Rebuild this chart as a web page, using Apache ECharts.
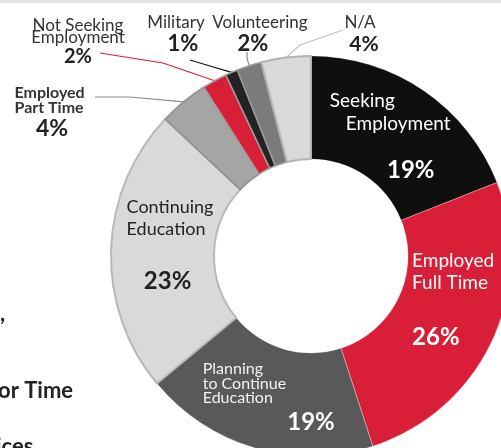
<!DOCTYPE html>
<html>
<head>
<meta charset="utf-8">
<script src="https://cdn.jsdelivr.net/npm/echarts@6/dist/echarts.min.js"></script>
<style>
  html, body { margin: 0; padding: 0; background: #fff; }
  #chart { width: 501px; height: 448px; }
</style>
</head>
<body>
<div id="chart"></div>
<script>
// slices, clockwise from 12 o'clock
const names = ['Seeking Employment', 'Employed Full Time', 'Planning to Continue Education',
  'Continuing Education', 'Employed Part Time', 'Not Seeking Employment', 'Military', 'Volunteering', 'N/A'];
const labelNames = ['Seeking\nEmployment', 'Employed\nFull Time', 'Planning\nto Continue\nEducation',
  'Continuing\nEducation', 'Employed\nPart Time', 'Not Seeking\nEmployment', 'Military', 'Volunteering', 'N/A'];
const values = [19, 26, 19, 23, 4, 2, 1, 2, 4];
const colors = ['#0f100e', '#d91e38', '#595959', '#d9d9d9', '#a5a5a5', '#d91e38', '#232323', '#7b7b7b', '#d9d9d9'];

const FONT = 'Lato';

// label styles per slice
const labelStyles = [
  { // seeking
    rich: {
      n0: { color: '#fff', fontSize: 19, lineHeight: 23, align: 'left' },
      n1: { color: '#fff', fontSize: 19, lineHeight: 23, align: 'right', padding: [0, 0, 0, 16] },
      p: { color: '#fff', fontSize: 24, fontWeight: 'bold', lineHeight: 71, align: 'right', padding: [0, 16, 0, 0] }
    }
  },
  { // full time
    rich: {
      n0: { color: '#fff', fontSize: 19, lineHeight: 22, align: 'left', width: 84 },
      n1: { color: '#fff', fontSize: 19, lineHeight: 22, align: 'left', width: 84 },
      p: { color: '#fff', fontSize: 24, fontWeight: 'bold', lineHeight: 88, align: 'left', width: 84 }
    }
  },
  { // planning
    rich: {
      n0: { color: '#f2f2f2', fontSize: 16, lineHeight: 14.5, align: 'left', width: 132 },
      n1: { color: '#f2f2f2', fontSize: 16, lineHeight: 14.5, align: 'left', width: 132 },
      n2: { color: '#f2f2f2', fontSize: 16, lineHeight: 14.5, align: 'left', width: 132 },
      p: { color: '#fff', fontSize: 24, fontWeight: 'bold', lineHeight: 33.5, align: 'right', width: 132 }
    }
  },
  { // continuing
    rich: {
      n0: { color: '#222', fontSize: 18, lineHeight: 22, align: 'left', width: 82 },
      n1: { color: '#222', fontSize: 18, lineHeight: 22, align: 'left', width: 82 },
      p: { color: '#222', fontSize: 24, fontWeight: 'bold', lineHeight: 83, align: 'center', width: 82 }
    }
  },
  { // part time
    rich: {
      n0: { color: '#333', fontSize: 16, fontWeight: 'bold', lineHeight: 15, align: 'left', width: 75 },
      n1: { color: '#333', fontSize: 16, fontWeight: 'bold', lineHeight: 15, align: 'left', width: 75 },
      p: { color: '#222', fontSize: 23, fontWeight: 'bold', lineHeight: 27, align: 'center', width: 75 }
    }
  },
  { // not seeking
    rich: {
      n0: { color: '#333', fontSize: 17, lineHeight: 12 },
      n1: { color: '#333', fontSize: 17, lineHeight: 12 },
      p: { color: '#222', fontSize: 20, fontWeight: 'bold', lineHeight: 26 }
    }
  },
  { // military
    rich: {
      n0: { color: '#333', fontSize: 17, lineHeight: 16 },
      p: { color: '#222', fontSize: 22, fontWeight: 'bold', lineHeight: 26, padding: [0, 0, 0, 14] }
    }
  },
  { // volunteering
    rich: {
      n0: { color: '#333', fontSize: 17, lineHeight: 16 },
      p: { color: '#222', fontSize: 22, fontWeight: 'bold', lineHeight: 26, padding: [0, 14, 0, 0] }
    }
  },
  { // n/a
    rich: {
      n0: { color: '#333', fontSize: 17, lineHeight: 16 },
      p: { color: '#222', fontSize: 21, fontWeight: 'bold', lineHeight: 26, padding: [0, 0, 0, 8] }
    }
  }
];

// shifts for the labels sitting inside the ring
const insideShift = { 0: [-6, 17], 1: [6, -5], 2: [0, -1], 3: [8, 8] };
// outside labels: block top-centre, leader bend and end
const outsideSpots = {
  4: { x: 52, y: 85, bend: [130, 97], end: [95, 97] },
  5: { x: 78, y: 20, bend: [163, 63], end: [100, 53] },
  6: { x: 176, y: 15, bend: [210, 66], end: [190, 60] },
  7: { x: 260, y: 15, bend: [247, 58], end: [247, 52] },
  8: { x: 360, y: 15, bend: [300, 45], end: [343, 30] }
};
const lineColors = { 4: '#8c8c8c', 5: '#d91e38', 6: '#111', 7: '#8c8c8c', 8: '#bdbdbd' };
const borders = [
  ['rgba(255,255,255,0.15)', 1], ['rgba(255,255,255,0.35)', 1], ['rgba(255,255,255,0.3)', 1],
  ['#b8b8b8', 2], ['#909090', 1.5], ['#a0a0a0', 1.5], ['#a0a0a0', 1.5], ['#9a9a9a', 1.5], ['#b3b3b3', 2]
];

const data = names.map((name, i) => {
  const parts = labelNames[i].split('\n');
  const text = parts.map((t, k) => '{n' + k + '|' + t + '}').join('\n') + '\n{p|' + values[i] + '%}';
  const outside = !!outsideSpots[i];
  return {
    name: name,
    value: values[i],
    itemStyle: { color: colors[i], borderColor: borders[i][0], borderWidth: borders[i][1] },
    label: Object.assign({
      show: true,
      position: outside ? 'outside' : 'inside',
      formatter: text,
      fontFamily: FONT
    }, labelStyles[i]),
    labelLine: { show: outside, lineStyle: { color: lineColors[i] || '#999', width: 1.2 } }
  };
});

const myChart = echarts.init(document.getElementById('chart'));

const option = {
  backgroundColor: '#fff',
  animation: false,
  textStyle: { fontFamily: FONT },
  graphic: [
    { type: 'rect', left: 0, top: 0, shape: { width: 501, height: 3 }, style: { fill: '#e4e4e4' } },
    { type: 'text', left: 0, top: 303, style: { text: ',', font: 'bold 22px Lato', fill: '#222' } },
    { type: 'text', left: -2, top: 380, style: { text: 'or Time', font: 'bold 22px Lato', fill: '#222' } },
    { type: 'text', left: -4, top: 436, style: { text: 'ices', font: 'bold 22px Lato', fill: '#222' } }
  ],
  series: [
    {
      type: 'pie',
      center: [311, 256],
      radius: [97, 200],
      startAngle: 90,
      clockwise: true,
      avoidLabelOverlap: false,
      data: data,
      labelLayout: function (p) {
        const spot = outsideSpots[p.dataIndex];
        if (!spot) {
          const s = insideShift[p.dataIndex];
          return { dx: s[0], dy: s[1] };
        }
        const pts = p.labelLinePoints;
        const res = { x: spot.x, y: spot.y, align: 'center', verticalAlign: 'top' };
        if (pts) res.labelLinePoints = [pts[0], spot.bend, spot.end];
        return res;
      }
    }
  ]
};
myChart.setOption(option);
</script>
</body>
</html>
